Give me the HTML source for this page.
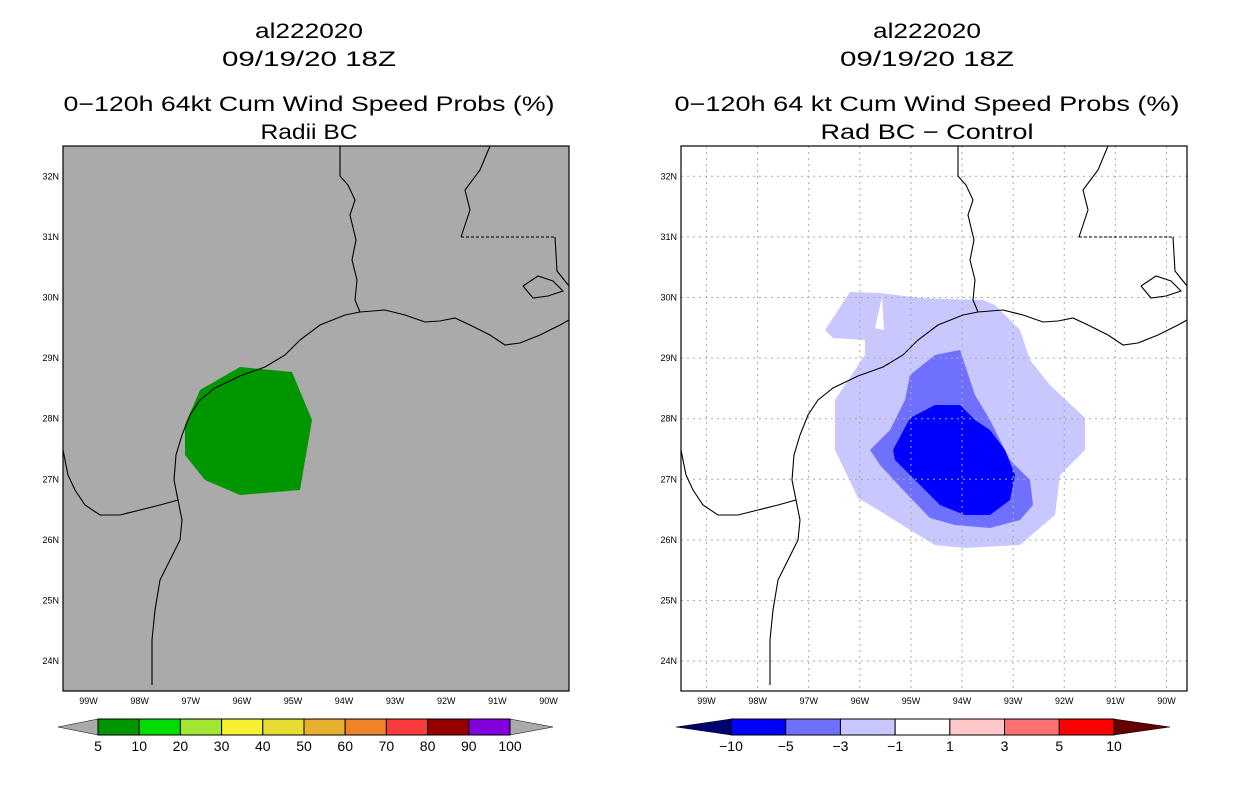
<!DOCTYPE html>
<html><head><meta charset="utf-8"><style>
body{margin:0;background:#fff;width:1236px;height:800px;overflow:hidden}
svg text{font-family:"Liberation Sans",sans-serif}
</style></head><body>
<svg id="s" width="1236" height="800" xmlns="http://www.w3.org/2000/svg"></svg>
<script>
const lonTicks=["99W","98W","97W","96W","95W","94W","93W","92W","91W","90W"];
const lonVals=[99,98,97,96,95,94,93,92,91,90];
const latTicks=["24N","25N","26N","27N","28N","29N","30N","31N","32N"];
const latVals=[24,25,26,27,28,29,30,31,32];
const leftLevels=["5","10","20","30","40","50","60","70","80","90","100"];
const leftColors=["#009600","#00dc00","#a0e632","#f5f032","#e6dc32","#e6af2d","#f08228","#fa3c3c","#960000","#8200dc"];
const rightLevels=["-10","-5","-3","-1","1","3","5","10"];
const rightColors=["#0000ff","#7070ff","#c8c8ff","#ffffff","#ffc8c8","#ff7070","#ff0000"];
// map geometry / contours as pixel offsets within panel (origin at panel top-left)
const coast=[[89,539],[89,494],[92,464],[97,434],[107,414],[117,394],[119,374],[115,354],[111,334],[113,309],[119,289],[127,269],[137,254],[152,242],[177,230],[202,221],[222,209],[237,194],[257,179],[282,169],[297,166],[322,164],[342,169],[362,176],[377,175],[392,172],[407,179],[427,189],[442,199],[457,197],[477,189],[497,179],[506,174]];
const border=[[115,354],[97,359],[77,364],[57,369],[37,369],[22,359],[12,344],[5,329],[0,304]];
const sabine=[[297,166],[292,154],[294,134],[289,114],[293,94],[287,69],[292,54],[285,39],[277,30],[277,0]];
const miss=[[398,91],[407,64],[402,44],[417,24],[427,0]];
const laMs=[[398,91],[492,91]];
const pearl=[[492,91],[494,125],[506,140]];
const lake=[[460,140],[475,130],[490,135],[500,145],[485,150],[470,152],[460,140]];
const green=[[122,279],[137,244],[177,221],[229,226],[249,274],[237,344],[177,349],[142,334],[122,309]];
const light=[[144,184],[169,146],[199,147],[239,152],[302,154],[314,159],[339,184],[349,214],[369,239],[404,272],[404,304],[379,329],[374,369],[339,399],[284,402],[254,399],[229,384],[194,362],[177,352],[154,304],[154,254],[174,224],[184,209],[184,194],[152,192]];
const hole=[[201,151],[203,184],[194,182]];
const med=[[229,229],[254,209],[279,204],[294,249],[309,274],[329,314],[349,334],[352,359],[339,374],[309,382],[274,379],[249,372],[224,346],[199,319],[189,304],[209,284],[224,254]];
const dark=[[229,272],[254,259],[279,259],[294,274],[309,284],[324,304],[334,329],[329,354],[309,369],[284,369],[259,359],[239,339],[214,314],[212,304]];
const W=506,H=545,PX=51.1,PY=60.6;
const s=document.getElementById('s');const NS="http://www.w3.org/2000/svg";
function el(t,a,txt){const e=document.createElementNS(NS,t);for(const k in a)e.setAttribute(k,a[k]);if(txt!==undefined)e.textContent=txt;s.appendChild(e);return e;}
function xs(ox,w){return ox+(99.5-w)*PX}
function ys(lat){return 146+(32.5-lat)*PY}
function pts(ox,arr){return arr.map(p=>(ox+p[0])+","+(146+p[1])).join(" ")}
function panel(ox,cx,lines,lens,bg,isRight){
  lines.forEach((t,i)=>{const e=el('text',{x:cx,y:[38,66,111,139][i],'font-size':21,'text-anchor':'middle',fill:'#000',textLength:lens[i],lengthAdjust:'spacingAndGlyphs'},t);
  
  });
  const r=el('rect',{x:ox,y:146,width:W,height:H,fill:bg});
  
  
  if(!isRight){const g=el('polygon',{points:pts(ox,green),fill:'#009600'});
    
    }
  else{
    [[light,'#c8c8ff','diff-minus1-contour'],[hole,'#ffffff','diff-hole'],[med,'#7070ff','diff-minus3-contour'],[dark,'#0000ff','diff-minus5-contour']].forEach(a=>{
      const p=el('polygon',{points:pts(ox,a[0]),fill:a[1]});
      
      });
    lonVals.forEach(v=>{const l=el('line',{x1:xs(ox,v),x2:xs(ox,v),y1:146,y2:691,stroke:'#aaa','stroke-dasharray':'2,4'});
      
      });
    latVals.forEach(v=>{const l=el('line',{x1:ox,x2:ox+W,y1:ys(v),y2:ys(v),stroke:'#aaa','stroke-dasharray':'2,4'});
      
      });
  }
  [[coast,'coastline'],[border,'mexico-border'],[sabine,'sabine-river'],[miss,'mississippi-river'],[pearl,'pearl-river'],[lake,'lake-pontchartrain']].forEach(a=>{
    const p=el('polyline',{points:pts(ox,a[0]),fill:'none',stroke:'#000','stroke-width':1.1});
    
    });
  const d=el('polyline',{points:pts(ox,laMs),fill:'none',stroke:'#000','stroke-width':1,'stroke-dasharray':'3,2'});
  
  
  const f=el('rect',{x:ox,y:146,width:W,height:H,fill:'none',stroke:'#000','stroke-width':1.2});
  
  
  lonVals.forEach((v,i)=>{const t=el('text',{x:xs(ox,v),y:704,'font-size':9,'text-anchor':'middle'},lonTicks[i]);
    
    });
  latVals.forEach((v,i)=>{const t=el('text',{x:ox-4,y:ys(v)+3,'font-size':9,'text-anchor':'end'},latTicks[i]);
    
    });
}
function colorbar(x0,x1,lt,rt,cols,labs,lcol,rcol,name){
  const y0=719,h=16,n=cols.length,w=(x1-x0)/n;
  const a=el('polygon',{points:`${lt},${y0+h/2} ${x0},${y0} ${x0},${y0+h}`,fill:lcol,stroke:'#000','stroke-width':0.5});
  
  
  const b=el('polygon',{points:`${rt},${y0+h/2} ${x1},${y0} ${x1},${y0+h}`,fill:rcol,stroke:'#000','stroke-width':0.5});
  
  
  cols.forEach((c,i)=>{const r=el('rect',{x:x0+i*w,y:y0,width:w,height:h,fill:c,stroke:'#000','stroke-width':1});
    
    });
  labs.forEach((l,i)=>{const t=el('text',{x:x0+i*w,y:751,'font-size':14,'text-anchor':'middle'},l.replace('-','\u2212'));
    
    });
}
panel(63,309,["al222020","09/19/20 18Z","0\u2212120h 64kt Cum Wind Speed Probs (%)","Radii BC"],[108,174,491,97],'#aaaaaa',false);
panel(681,927,["al222020","09/19/20 18Z","0\u2212120h 64 kt Cum Wind Speed Probs (%)","Rad BC \u2212 Control"],[108,174,505,213],'#ffffff',true);
colorbar(98,510,58,553,leftColors,leftLevels,'#aaaaaa','#aaaaaa','left-colorbar');
colorbar(731,1114,676,1170,rightColors,rightLevels,'#000070','#640000','right-colorbar');
</script>
</body></html>
